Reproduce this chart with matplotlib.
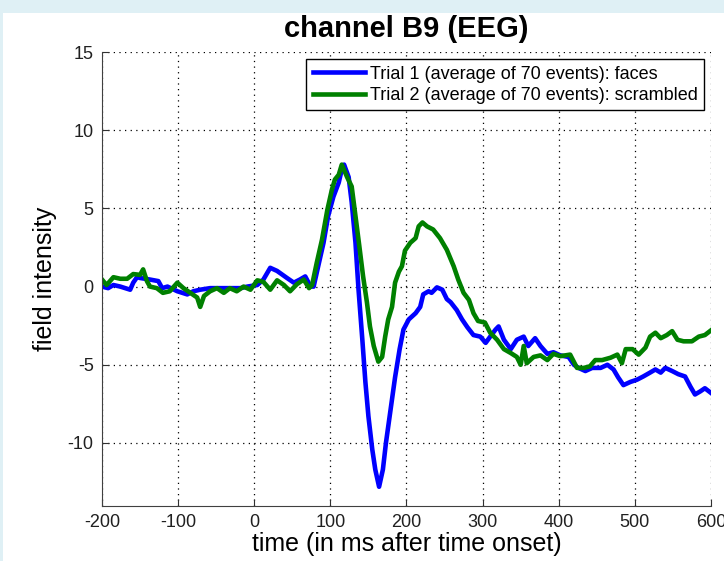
import numpy as np
import matplotlib
matplotlib.use('Agg')
import matplotlib.pyplot as plt
from matplotlib.patches import Rectangle

plt.rcParams['font.family'] = ['Liberation Sans', 'DejaVu Sans']
plt.rcParams['axes.unicode_minus'] = False

# trial 1: faces (blue)
t_faces = [-200, -192, -185, -176, -163, -159, -154, -150, -137, -126, -121, -114, -101,
           -88, -80, -71, -58, -45, -32, -18, -9, 4, 12, 21, 30, 43, 52, 60, 67, 74, 78,
           84, 91, 97, 104, 111, 115, 118, 124, 128, 133, 137, 142, 146, 150, 155, 159,
           164, 169, 173, 179, 185, 191, 196, 203, 212, 218, 222, 229, 233, 240, 247,
           253, 258, 266, 273, 280, 288, 297, 304, 310, 317, 321, 328, 337, 345, 354,
           360, 369, 376, 385, 393, 402, 413, 420, 426, 435, 444, 455, 464, 472, 478,
           485, 494, 503, 511, 520, 527, 534, 540, 549, 557, 566, 573, 579, 586, 592, 600]
faces = [0.0, -0.1, 0.1, 0.0, -0.2, 0.25, 0.6, 0.55, 0.45, 0.35, -0.1, 0.0, -0.3,
         -0.5, -0.3, -0.2, -0.1, -0.1, -0.1, -0.1, 0.0, 0.1, 0.45, 1.2, 1.0, 0.55, 0.25, 0.45, 0.65, 0.0, 0.0,
         1.3, 2.8, 4.5, 5.75, 6.65, 7.5, 7.8, 7.0, 5.4, 2.8, -0.2, -3.4, -6.1, -8.3, -10.4, -11.7,
         -12.8, -11.7, -10.0, -7.9, -5.8, -4.0, -2.75, -2.1, -1.7, -1.3, -0.5, -0.3, -0.4, -0.05, -0.2,
         -0.8, -1.0, -1.5, -2.1, -2.6, -3.1, -3.2, -3.6, -3.2, -2.75, -2.55, -3.4, -4.0, -3.4, -3.2,
         -3.8, -3.3, -3.8, -4.3, -4.2, -4.4, -4.5, -5.0, -5.2, -5.4, -5.2, -5.2, -5.0, -5.3, -5.8,
         -6.3, -6.1, -5.95, -5.75, -5.5, -5.3, -5.5, -5.2, -5.4, -5.6, -5.75, -6.4, -6.9, -6.7, -6.5, -6.8]

# trial 2: scrambled (green)
t_scr = [-200, -194, -185, -176, -167, -159, -150, -146, -141, -137, -128, -120, -111,
         -101, -93, -84, -75, -71, -66, -58, -49, -40, -32, -23, -14, -5, 4, 12, 21, 30,
         39, 47, 56, 65, 72, 76, 82, 89, 96, 102, 106, 111, 115, 122, 128, 133, 138, 143,
         148, 152, 157, 163, 168, 172, 176, 181, 185, 190, 194, 198, 205, 212, 216, 221,
         227, 235, 244, 253, 262, 268, 275, 282, 288, 294, 303, 310, 319, 328, 337, 345,
         350, 354, 358, 367, 376, 385, 393, 402, 415, 424, 433, 441, 448, 457, 468, 477,
         483, 488, 497, 505, 514, 520, 527, 534, 542, 549, 556, 564, 575, 584, 592, 600]
scrambled = [0.45, 0.1, 0.6, 0.5, 0.5, 0.8, 0.75, 1.1, 0.35, 0.0, -0.1, -0.4, -0.3,
             0.25, -0.1, -0.4, -0.7, -1.3, -0.6, -0.3, -0.1, -0.4, -0.1, -0.3, 0.0, -0.2, 0.4, 0.3, -0.2, 0.4,
             0.1, -0.3, 0.15, 0.45, -0.1, 0.1, 1.5, 3.0, 4.9, 6.2, 6.85, 7.15, 7.8, 7.0, 6.4, 4.5, 2.6, 0.65,
             -1.0, -2.55, -3.8, -4.8, -4.5, -3.2, -2.1, -1.3, 0.25, 0.95, 1.3, 2.3, 2.8, 3.1, 3.85, 4.1,
             3.85, 3.65, 3.1, 2.35, 1.3, 0.45, -0.4, -0.85, -1.7, -2.2, -2.3, -2.95, -3.4, -4.0, -4.25, -4.5,
             -5.0, -3.8, -4.9, -4.5, -4.4, -4.7, -4.3, -4.45, -4.35, -5.2, -5.2, -5.1, -4.7, -4.7, -4.55, -4.35,
             -4.9, -4.0, -4.0, -4.35, -3.9, -3.2, -2.95, -3.3, -3.1, -2.85, -3.4, -3.5, -3.5, -3.2, -3.1, -2.8]

xticks = [-200, -100, 0, 100, 200, 300, 400, 500, 600]
yticks = [-10, -5, 0, 5, 10, 15]

fig = plt.figure(figsize=(7.24, 5.61), dpi=100, facecolor='white')
# light page border from the screenshot
fig.add_artist(Rectangle((0, 1 - 13 / 561), 1, 13 / 561, transform=fig.transFigure,
                         facecolor='#dff0f5', edgecolor='none', zorder=-1))
fig.add_artist(Rectangle((0, 0), 3 / 724, 1, transform=fig.transFigure,
                         facecolor='#dff0f5', edgecolor='none', zorder=-1))

ax = fig.add_axes([0.1409, 0.0989, 0.8411, 0.8084])
ax.plot(t_faces, faces, color='#0000ff', lw=3.3,
        label='Trial 1 (average of 70 events): faces')
ax.plot(t_scr, scrambled, color='#008000', lw=3.3,
        label='Trial 2 (average of 70 events): scrambled')

ax.set_xlim(-200, 600)
ax.set_ylim(-14, 15)
ax.set_xticks(xticks)
ax.set_yticks(yticks)
ax.grid(True, color='black', linestyle=(0, (1, 3.5)), lw=0.9)
ax.spines['top'].set_visible(False)
ax.spines['right'].set_visible(False)
ax.spines['left'].set_color('#404040')
ax.spines['bottom'].set_color('#404040')
ax.tick_params(direction='in', length=5, labelsize=13, pad=6, colors='#303030',
               labelcolor='#202020')

ax.set_title('channel B9 (EEG)', fontsize=21, fontweight='bold', pad=11)
ax.set_xlabel('time (in ms after time onset)', fontsize=18, labelpad=1)
ax.set_ylabel('field intensity', fontsize=18, labelpad=8)

leg = ax.legend(loc='upper right', fontsize=13, fancybox=False, framealpha=1,
                edgecolor='black', handlelength=2.9, handletextpad=0.25,
                labelspacing=0.25, borderpad=0.35, borderaxespad=0.4)
leg.get_frame().set_linewidth(1.0)

fig.savefig('out.png', dpi=100, facecolor=fig.get_facecolor())
